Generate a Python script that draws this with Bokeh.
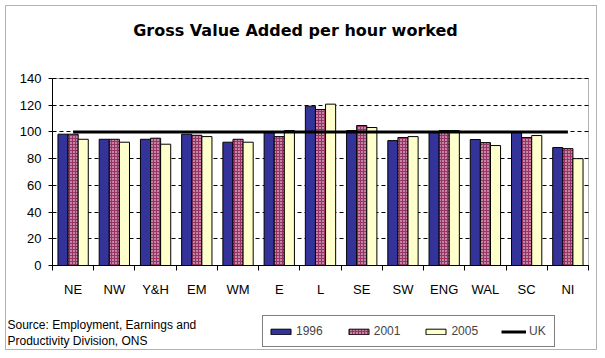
from bokeh.plotting import figure
from bokeh.models import (FixedTicker, Legend, LegendItem, Label, BoxAnnotation,
                          ColumnDataSource, Range1d)
from bokeh.transform import dodge
from bokeh.embed import file_html
from bokeh.resources import INLINE

# ---- data ----
regions = ["NE", "NW", "Y&H", "EM", "WM", "E", "L", "SE", "SW", "ENG", "WAL", "SC", "NI"]
v1996 = [98.3, 94.5, 94.5, 98.3, 92.3, 99.6, 119.3, 101.0, 93.5, 100.0, 94.3, 99.6, 88.3]
v2001 = [98.3, 94.5, 95.3, 97.5, 94.5, 96.5, 116.8, 104.8, 95.8, 101.0, 92.0, 95.8, 87.5]
v2005 = [94.5, 92.3, 90.8, 96.5, 92.3, 101.0, 120.8, 103.3, 96.5, 101.0, 89.8, 97.3, 80.0]
uk = [100, 100, 100, 100, 100, 100, 100, 100, 100, 100, 100, 100, 100]
y_ticks = [0, 20, 40, 60, 80, 100, 120, 140]
series_names = ["1996", "2001", "2005", "UK"]
title_text = "Gross Value Added per hour worked"
source_text = "Source: Employment, Earnings and\nProductivity Division, ONS"

n = len(regions)
centers = [i + 0.5 for i in range(n)]
bounds = [i for i in range(n + 1)]
ymin, ymax = y_ticks[0], y_ticks[-1]

src = ColumnDataSource(dict(x=centers, v1996=v1996, v2001=v2001, v2005=v2005, uk=uk))

FONT = "Liberation Sans"

# canvas geometry (pixels): plot area inside the whole-chart frame
W, H = 597, 350
PL, PR, PT, PB = 52, 588, 78, 265
xs = (PR - PL) / n
ys = (PB - PT) / (ymax - ymin)
x_range = Range1d(0 - PL / xs, n + (W - PR) / xs)
y_range = Range1d(ymin - (H - PB) / ys, ymax + PT / ys)

p = figure(width=W, height=H, output_backend="svg", toolbar_location=None,
           x_range=x_range, y_range=y_range,
           min_border_left=0, min_border_right=0, min_border_top=0, min_border_bottom=0,
           background_fill_color="white", border_fill_color="white")

p.outline_line_color = None

# whole-chart border
chart_box = BoxAnnotation(left=5, right=596, top=5, bottom=349,
                          left_units="canvas", right_units="canvas",
                          top_units="canvas", bottom_units="canvas",
                          fill_alpha=0, line_color="black", line_width=1)
p.add_layout(chart_box)

# axes fixed to the plot area
xa = p.xaxis[0]
xa.fixed_location = ymin
xa.bounds = (0, n)
xa.ticker = FixedTicker(ticks=centers, minor_ticks=bounds)
xa.major_label_overrides = {c: r for c, r in zip(centers, regions)}
xa.major_tick_out = 0
xa.major_tick_in = 0
xa.minor_tick_out = 5
xa.minor_tick_in = 0
xa.minor_tick_line_color = "black"
xa.axis_line_color = "black"
xa.major_label_text_font = FONT
xa.major_label_text_font_size = "13px"
xa.major_label_text_color = "black"
xa.major_label_standoff = 11

ya = p.yaxis[0]
ya.fixed_location = 0
ya.bounds = (ymin, ymax)
ya.ticker = FixedTicker(ticks=y_ticks)
ya.major_tick_out = 4
ya.major_tick_in = 0
ya.minor_tick_line_color = None
ya.major_tick_line_color = "black"
ya.axis_line_color = "black"
ya.major_label_text_font = FONT
ya.major_label_text_font_size = "13px"
ya.major_label_text_color = "black"
ya.major_label_standoff = 7

p.xgrid.grid_line_color = None
p.ygrid.grid_line_color = "black"
p.ygrid.grid_line_dash = "4 3"
p.ygrid.grid_line_width = 1
p.ygrid.bounds = (ymin, ymax)
p.ygrid.cross_bounds = (0, n)

# plot-area border
area = BoxAnnotation(left=0, right=n, bottom=ymin, top=ymax,
                     fill_alpha=0, line_color="black", line_width=1)
p.add_layout(area)

bw = 0.245
r1 = p.vbar(x=dodge("x", -bw, range=None), top="v1996", width=bw, source=src,
            fill_color="#333399", line_color="black", line_width=1)
r2 = p.vbar(x="x", top="v2001", width=bw, source=src,
            fill_color="#993366", line_color="black", line_width=1,
            hatch_pattern="dot", hatch_color="white", hatch_scale=3, hatch_weight=1)
r3 = p.vbar(x=dodge("x", bw, range=None), top="v2005", width=bw, source=src,
            fill_color="#FFFFCC", line_color="black", line_width=1)
r4 = p.line(x="x", y="uk", source=src, line_color="black", line_width=3)

legend = Legend(items=[LegendItem(label=series_names[0], renderers=[r1]),
                       LegendItem(label=series_names[1], renderers=[r2]),
                       LegendItem(label=series_names[2], renderers=[r3]),
                       LegendItem(label=series_names[3], renderers=[r4])],
                orientation="horizontal", location=(262, 3),
                border_line_color="black", border_line_width=1,
                background_fill_color="white", background_fill_alpha=1,
                padding=5, spacing=23, margin=0,
                glyph_width=25, glyph_height=7, label_standoff=3,
                label_text_font=FONT, label_text_font_size="12px",
                label_height=20)
p.add_layout(legend, "center")

title = Label(x=295, y=30, x_units="canvas", y_units="canvas", text=title_text,
              text_font="DejaVu Sans", text_font_style="bold", text_font_size="16px",
              text_align="center", text_baseline="middle", text_color="black")
p.add_layout(title)

source = Label(x=7, y=317, x_units="canvas", y_units="canvas", text=source_text,
               text_font=FONT, text_font_size="12px", text_align="left",
               text_baseline="top", text_color="black", text_line_height=1.2)
p.add_layout(source)

open("out.html", "w").write(file_html(p, INLINE))
